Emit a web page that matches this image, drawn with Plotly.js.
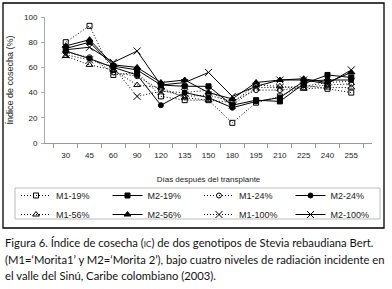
<!DOCTYPE html>
<html>
<head>
<meta charset="utf-8">
<script src="https://cdn.plot.ly/plotly-3.0.1.min.js"></script>
<style>
  html, body { margin: 0; padding: 0; background: #fff; }
  #chart { width: 392px; height: 289px; }
</style>
</head>
<body>
<div id="chart"></div>
<script>
// ---- data ----
const days = ['30','45','60','90','120','135','150','180','195','210','225','240','255'];
const seriesNames = ['M1-19%','M2-19%','M1-24%','M2-24%','M1-56%','M2-56%','M1-100%','M2-100%'];
const m1_19  = [80, 93, 54, 56, 37, 34, 34, 16, 32, 37, 46, 43, 40];
const m2_19  = [75, 80, 61, 58, 46, 45, 45, 30, 34, 33, 47, 54, 52];
const m1_24  = [72, 68, 56, 53, 42, 37, 38, 33, 42, 42, 44, 46, 47];
const m2_24  = [73, 67, 60, 54, 30, 40, 36, 28, 33, 36, 49, 50, 50];
const m1_56  = [69, 62, 58, 46, 44, 36, 34, 32, 46, 45, 43, 44, 44];
const m2_56  = [77, 82, 62, 60, 48, 50, 40, 35, 48, 50, 51, 48, 56];
const m1_100 = [70, 66, 60, 37, 41, 40, 42, 30, 44, 44, 45, 48, 49];
const m2_100 = [74, 76, 64, 73, 46, 48, 56, 37, 45, 50, 50, 47, 58];
const yTicks = [0, 20, 40, 60, 80, 100];
const xTitle = 'Días después del transplante';
const yTitle = 'Índice de cosecha (%)';
const captionLines = [
  'Figura 6. Índice de cosecha (<span style="font-variant:small-caps">ic</span>) de dos genotipos de Stevia rebaudiana Bert.',
  '(M1=‘Morita1’ y M2=‘Morita 2’), bajo cuatro niveles de radiación incidente en',
  'el valle del Sinú, Caribe colombiano (2003).'
];

// ---- geometry ----
const W = 392, H = 289;
const L = 45, R = 372, T = 17, B = 143;
const px = x => (x - L) / (R - L);
const py = y => (B - y) / (B - T);

const values = [m1_19, m2_19, m1_24, m2_24, m1_56, m2_56, m1_100, m2_100];
const symbols = ['square-open','square','circle-open','circle','triangle-up-open','triangle-up','x-thin','x-thin'];
const sizes = [5, 5, 5, 5, 6, 6, 7, 7];

const traces = values.map((v, i) => {
  const solid = i % 2 === 1;
  return {
    type: 'scatter',
    mode: 'lines+markers',
    name: seriesNames[i],
    x: days,
    y: v,
    line: { color: '#000', width: 1, dash: solid ? 'solid' : '1px,2px' },
    marker: {
      symbol: symbols[i],
      size: sizes[i],
      color: '#000',
      line: { color: '#000', width: 1 }
    }
  };
});

const font = 'Liberation Sans, Arial, sans-serif';

const annotations = captionLines.map((t, i) => ({
  xref: 'paper', yref: 'paper',
  x: px(3), y: py(243 + i * 16),
  xanchor: 'left', yanchor: 'middle',
  text: t, showarrow: false,
  font: { family: 'Lato, sans-serif', size: 11.25, color: '#111' }
}));

const layout = {
  width: W, height: H,
  margin: { l: L, r: W - R, t: T, b: H - B, pad: 0 },
  paper_bgcolor: '#fff', plot_bgcolor: '#fff',
  font: { family: font, color: '#222', size: 8 },
  showlegend: true,
  xaxis: {
    type: 'category',
    showgrid: false, zeroline: false,
    showline: true, linecolor: '#999', linewidth: 1,
    ticks: 'outside', ticklen: 4, tickcolor: '#999', tickson: 'boundaries',
    ticklabelstandoff: 4,
    tickfont: { size: 8, color: '#222' },
    title: { text: xTitle, font: { size: 8, color: '#222' }, standoff: 17 }
  },
  yaxis: {
    range: [0, 100], tickvals: yTicks,
    showgrid: false, zeroline: false,
    showline: true, linecolor: '#aaa', linewidth: 1,
    ticks: 'outside', ticklen: 3, tickcolor: '#aaa',
    ticklabelstandoff: 2,
    tickfont: { size: 8, color: '#222' },
    title: { text: yTitle, font: { size: 9, color: '#222' }, standoff: 8 }
  },
  legend: {
    orientation: 'h',
    x: px(16), y: py(181), xanchor: 'left', yanchor: 'top',
    borderwidth: 0, bgcolor: 'rgba(0,0,0,0)',
    font: { size: 9, color: '#222' },
    entrywidth: 46.5, itemwidth: 30,
    tracegroupgap: 0
  },
  shapes: [{
    type: 'rect', xref: 'paper', yref: 'paper',
    x0: px(3), x1: px(384), y0: py(228), y1: py(3),
    line: { color: '#000', width: 1.3 }, fillcolor: 'rgba(0,0,0,0)'
  }, {
    type: 'rect', xref: 'paper', yref: 'paper',
    x0: px(15), x1: px(380), y0: py(219), y1: py(188),
    line: { color: '#bbb', width: 1 }, fillcolor: 'rgba(0,0,0,0)'
  }],
  annotations: annotations
};

Plotly.newPlot('chart', traces, layout, { staticPlot: true, displayModeBar: false });
</script>
</body>
</html>
